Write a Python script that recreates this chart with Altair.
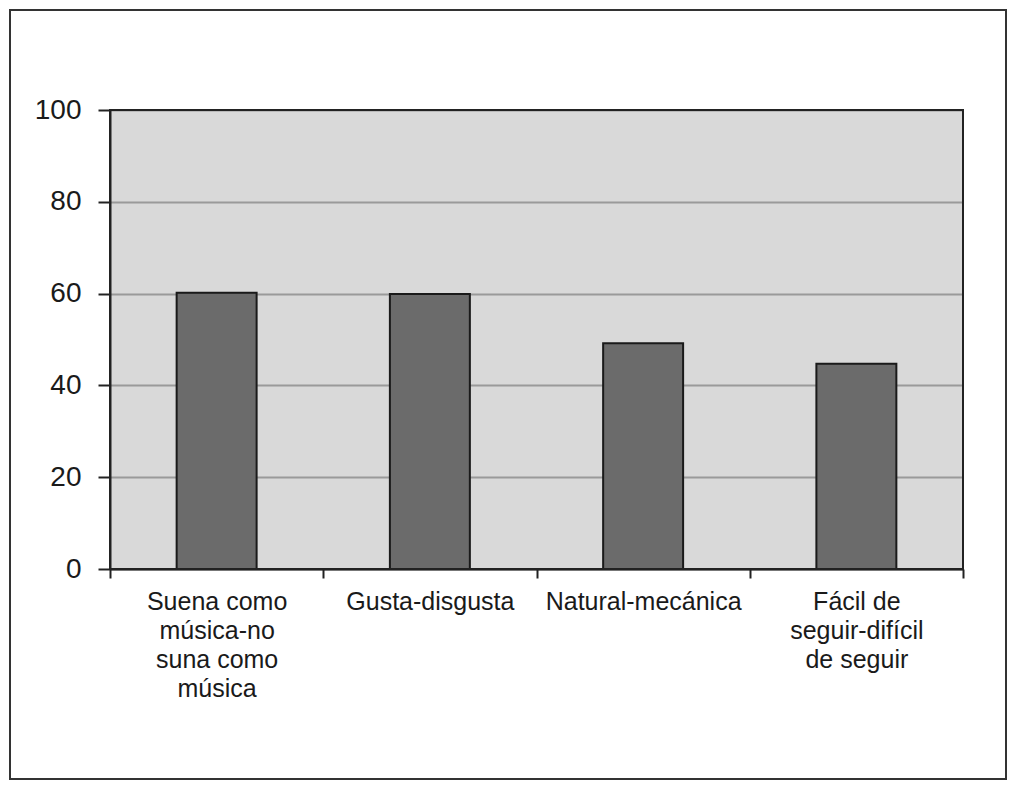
import altair as alt
import pandas as pd

categories = [
    "Suena como|música-no|suna como|música",
    "Gusta-disgusta",
    "Natural-mecánica",
    "Fácil de|seguir-difícil|de seguir",
]
values = [60.2, 59.9, 49.2, 44.7]
y_ticks = [0, 20, 40, 60, 80, 100]

df = pd.DataFrame({"categoria": categories, "valor": values})

FONT = "Liberation Sans"
W, H = 853, 459

bars = alt.Chart(df).mark_bar(
    width=alt.RelativeBandSize(0.375),
    fill="#6b6b6b",
    stroke="#1a1a1a",
    strokeWidth=2,
).encode(
    x=alt.X(
        "categoria:N",
        sort=categories,
        scale=alt.Scale(paddingInner=0, paddingOuter=0),
        axis=alt.Axis(
            title=None,
            labelAngle=0,
            labelExpr="split(datum.label, '|')",
            labelFont=FONT,
            labelFontSize=25,
            labelColor="#1a1a1a",
            labelLineHeight=29,
            labelPadding=11,
            labelBaseline="top",
            tickBand="extent",
            tickSize=9,
            tickWidth=2,
            tickColor="#222222",
            domainColor="#222222",
            domainWidth=2,
            grid=False,
            labelLimit=300,
        ),
    ),
    y=alt.Y(
        "valor:Q",
        scale=alt.Scale(domain=[0, 100], nice=False),
        axis=alt.Axis(
            title=None,
            values=y_ticks,
            labelFont=FONT,
            labelFontSize=28,
            labelColor="#1a1a1a",
            labelPadding=17,
            tickSize=12,
            tickWidth=2,
            tickColor="#222222",
            domainColor="#222222",
            domainWidth=2,
            grid=True,
            gridColor="#9a9a9a",
            gridWidth=2,
        ),
    ),
)

plot_border = alt.Chart(pd.DataFrame({"k": [0]})).mark_rect(
    fillOpacity=0, stroke="#222222", strokeWidth=2
).encode(
    x=alt.value(0),
    x2=alt.value(W),
    y=alt.value(0),
    y2=alt.value(H),
)

frame = alt.Chart(pd.DataFrame({"k": [0]})).mark_rect(
    fillOpacity=0, stroke="#333333", strokeWidth=2
).encode(
    x=alt.value(-100),
    x2=alt.value(896),
    y=alt.value(-100),
    y2=alt.value(669),
)

chart = alt.layer(bars, plot_border, frame).properties(
    width=W,
    height=H,
    background="white",
    autosize=alt.AutoSizeParams(type="none"),
    padding={"left": 102, "top": 102, "right": 45, "bottom": 212},
).configure_view(
    fill="#d9d9d9", stroke="transparent"
)

chart.save("out.html", embed_options={"renderer": "svg", "actions": False})
